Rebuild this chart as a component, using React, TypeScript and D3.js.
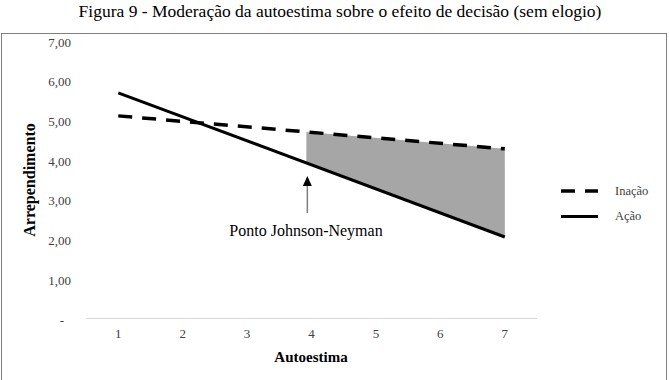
import { useEffect, useRef } from "react";
import * as d3 from "d3";

const TITLE = "Figura 9 - Moderação da autoestima sobre o efeito de decisão (sem elogio)";
const categories = ["1", "2", "3", "4", "5", "6", "7"];
const yTicks = [0, 1, 2, 3, 4, 5, 6, 7];
// endpoints of the two regression lines (Autoestima 1 and 7)
const inacao = [5.14, 4.31];
const acao = [5.72, 2.09];
const jnPoint = 3.92; // Johnson-Neyman point

const W = 669;
const H = 380;

const App = () => {
  const ref = useRef<SVGSVGElement>(null);

  useEffect(() => {
    document.body.style.margin = "0";
    const svg = d3.select(ref.current);
    svg.selectAll("*").remove();

    const font = "'Liberation Serif', 'Times New Roman', serif";

    const xBand = d3.scaleBand().domain(categories).range([86, 537]);
    const xScale = d3
      .scaleLinear()
      .domain([1, 7])
      .range([xBand("1")! + xBand.bandwidth() / 2, xBand("7")! + xBand.bandwidth() / 2]);
    const yScale = d3.scaleLinear().domain([0, 7]).range([320, 42]);

    const lineAt = (s: number[], x: number) => s[0] + ((s[1] - s[0]) * (x - 1)) / 6;

    // title
    svg
      .append("text")
      .attr("x", 340)
      .attr("y", 17)
      .attr("text-anchor", "middle")
      .attr("font-family", font)
      .attr("font-size", 17.5)
      .text(TITLE);

    // frame
    svg
      .append("rect")
      .attr("x", 1.5)
      .attr("y", 33.5)
      .attr("width", 665)
      .attr("height", 360)
      .attr("fill", "none")
      .attr("stroke", "#7f7f7f")
      .attr("stroke-width", 1);

    // y tick labels
    svg
      .append("g")
      .selectAll("text")
      .data(yTicks)
      .join("text")
      .attr("x", (d) => (d === 0 ? 64 : 71))
      .attr("y", (d) => yScale(d) + 4.5)
      .attr("text-anchor", "end")
      .attr("font-family", font)
      .attr("font-size", 13)
      .attr("fill", "#404040")
      .text((d) => (d === 0 ? "-" : d.toFixed(2).replace(".", ",")));

    // x axis line
    svg
      .append("line")
      .attr("x1", 86)
      .attr("x2", 537)
      .attr("y1", 318.5)
      .attr("y2", 318.5)
      .attr("stroke", "#d9d9d9")
      .attr("stroke-width", 1);

    // x tick labels
    svg
      .append("g")
      .selectAll("text")
      .data(categories)
      .join("text")
      .attr("x", (d) => xBand(d)! + xBand.bandwidth() / 2)
      .attr("y", 338)
      .attr("text-anchor", "middle")
      .attr("font-family", font)
      .attr("font-size", 13)
      .attr("fill", "#404040")
      .text((d) => d);

    // axis titles
    svg
      .append("text")
      .attr("x", 311)
      .attr("y", 362)
      .attr("text-anchor", "middle")
      .attr("font-family", font)
      .attr("font-size", 15)
      .attr("font-weight", "bold")
      .text("Autoestima");

    svg
      .append("text")
      .attr("transform", `translate(35, 180) rotate(-90)`)
      .attr("text-anchor", "middle")
      .attr("font-family", font)
      .attr("font-size", 16)
      .attr("font-weight", "bold")
      .text("Arrependimento");

    // shaded region of significance
    const xs = [jnPoint, 7];
    const area = d3
      .area<number>()
      .x((d) => xScale(d))
      .y0((d) => yScale(lineAt(acao, d)))
      .y1((d) => yScale(lineAt(inacao, d)));
    svg.append("path").attr("d", area(xs)).attr("fill", "#a6a6a6");

    // lines
    const line = d3
      .line<[number, number]>()
      .x((d) => xScale(d[0]))
      .y((d) => yScale(d[1]));

    svg
      .append("path")
      .attr("d", line([[1, inacao[0]], [7, inacao[1]]]))
      .attr("fill", "none")
      .attr("stroke", "#000")
      .attr("stroke-width", 3.5)
      .attr("stroke-dasharray", "14 10");

    svg
      .append("path")
      .attr("d", line([[1, acao[0]], [7, acao[1]]]))
      .attr("fill", "none")
      .attr("stroke", "#000")
      .attr("stroke-width", 3);

    // arrow to Johnson-Neyman point
    const ax = xScale(jnPoint) + 1;
    svg
      .append("line")
      .attr("x1", ax)
      .attr("x2", ax)
      .attr("y1", 213)
      .attr("y2", 186)
      .attr("stroke", "#7f7f7f")
      .attr("stroke-width", 1.5);
    svg
      .append("path")
      .attr("d", `M${ax - 4.5},186 L${ax},176 L${ax + 4.5},186 Z`)
      .attr("fill", "#000");

    svg
      .append("text")
      .attr("x", 306)
      .attr("y", 236)
      .attr("text-anchor", "middle")
      .attr("font-family", font)
      .attr("font-size", 16)
      .text("Ponto Johnson-Neyman");

    // legend
    const legend = [
      { name: "Inação", dash: "14 10", y: 191, w: 3.5 },
      { name: "Ação", dash: null, y: 216.5, w: 3 },
    ];
    const lg = svg.append("g");
    legend.forEach((l) => {
      lg.append("line")
        .attr("x1", 561)
        .attr("x2", 598)
        .attr("y1", l.y)
        .attr("y2", l.y)
        .attr("stroke", "#000")
        .attr("stroke-width", l.w)
        .attr("stroke-dasharray", l.dash);
      lg.append("text")
        .attr("x", 615)
        .attr("y", l.y + 3.5)
        .attr("font-family", font)
        .attr("font-size", 12.5)
        .attr("fill", "#404040")
        .text(l.name);
    });
  }, []);

  return (
    <svg
      ref={ref}
      width={W}
      height={H}
      style={{ display: "block", position: "absolute", left: 0, top: 0, background: "#fff" }}
    ></svg>
  );
};

export default App;
